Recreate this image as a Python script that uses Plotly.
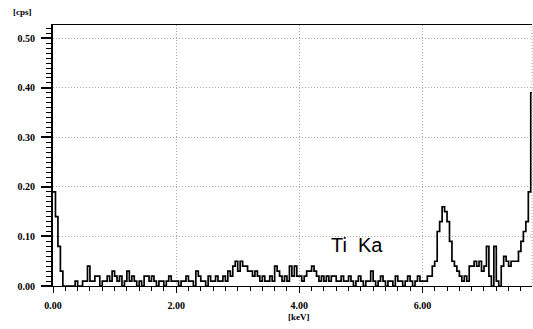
import numpy as np
import plotly.graph_objects as go

# Spectrum counts (cps, in units of 0.01) per 0.04 keV channel, starting at 0 keV
bin_width_kev = 0.04
counts_0_2kev = [19, 14, 8, 3, 0, 0, 0, 0, 0, 1, 0, 0, 1, 1, 4, 1, 1, 2, 2, 0,
                 1, 1, 2, 1, 3, 2, 1, 2, 0, 1, 3, 1, 2, 1, 0, 1, 0, 2, 2, 1,
                 2, 1, 0, 1, 1, 0, 1, 2, 1, 1]
counts_2_4kev = [1, 0, 1, 1, 2, 1, 1, 0, 3, 2, 1, 1, 0, 2, 1, 1, 2, 1, 1, 2,
                 1, 3, 2, 4, 5, 3, 5, 4, 4, 3, 3, 2, 3, 2, 1, 2, 1, 1, 2, 1,
                 4, 3, 2, 1, 2, 1, 4, 2, 4, 2]
counts_4_6kev = [2, 1, 2, 3, 3, 4, 3, 2, 1, 2, 1, 2, 1, 2, 2, 1, 1, 2, 1, 1,
                 2, 1, 0, 1, 2, 1, 0, 1, 1, 3, 1, 0, 1, 2, 1, 0, 1, 1, 0, 2,
                 1, 1, 0, 1, 2, 1, 0, 1, 2, 1]
counts_6_8kev = [1, 1, 2, 2, 4, 5, 11, 13, 16, 15, 13, 9, 5, 4, 3, 2, 1, 2, 1, 4,
                 4, 5, 4, 5, 3, 4, 8, 2, 0, 8, 1, 0, 4, 6, 5, 4, 5, 5, 5, 7,
                 9, 11, 13, 19, 39]

x_tick_vals = [0, 2, 4, 6]
y_tick_vals = [0.0, 0.1, 0.2, 0.3, 0.4, 0.5]
peak_label = "Ti  Ka"
peak_label_pos = (4.93, 0.083)

counts = np.array(counts_0_2kev + counts_2_4kev + counts_4_6kev + counts_6_8kev) / 100.0
energy = np.arange(len(counts) + 1) * bin_width_kev
cps = np.append(counts, counts[-1])

fig = go.Figure()
fig.add_trace(go.Scatter(
    x=energy, y=cps, mode="lines", line=dict(color="black", width=1.7, shape="hv"),
    hoverinfo="skip", showlegend=False,
))

tickfont = dict(family="Liberation Serif, DejaVu Serif, serif", size=10, color="black", weight="bold")
grid_dash = "1px,2px"
grid_color = "#a8a8a8"

fig.update_xaxes(
    range=[0, 7.78], tickvals=x_tick_vals, tickformat=".2f",
    showgrid=True, gridcolor=grid_color, griddash=grid_dash, gridwidth=1,
    showline=True, linecolor="black", linewidth=1, mirror=True,
    ticks="outside", ticklen=6, tickcolor="black", tickwidth=1,
    minor=dict(dtick=0.2, ticks="outside", ticklen=4, tickcolor="black", showgrid=False),
    tickfont=tickfont, zeroline=False, ticklabelstandoff=4,
)
fig.update_yaxes(
    range=[0, 0.527], tickvals=y_tick_vals, tickformat=".2f",
    showgrid=True, gridcolor=grid_color, griddash=grid_dash, gridwidth=1,
    showline=True, linecolor="black", linewidth=2,
    ticks="outside", ticklen=10, tickcolor="black", tickwidth=2,
    minor=dict(dtick=0.01, ticks="outside", ticklen=5, tickcolor="black", tickwidth=1, showgrid=False),
    tickfont=tickfont, zeroline=False, ticklabelstandoff=4,
)

# right border (gray dotted)
fig.add_shape(type="line", xref="paper", yref="paper", x0=1, x1=1, y0=0, y1=1,
              line=dict(color=grid_color, width=1, dash=grid_dash))

fig.add_annotation(text="[cps]", xref="paper", yref="paper", x=-0.064, y=1.05,
                   showarrow=False, font=dict(family="Liberation Serif, serif", size=9, color="black", weight="bold"),
                   xanchor="center", yanchor="middle")
fig.add_annotation(text="[keV]", xref="x", yref="paper", x=4.0, y=-0.119,
                   showarrow=False, font=dict(family="Liberation Serif, serif", size=9, color="black", weight="bold"),
                   xanchor="center", yanchor="middle")
fig.add_annotation(text=peak_label, xref="x", yref="y", x=peak_label_pos[0], y=peak_label_pos[1],
                   showarrow=False, font=dict(family="Liberation Sans Narrow, Liberation Sans, sans-serif", size=20, color="black"),
                   xanchor="center", yanchor="middle")

fig.update_layout(
    width=533, height=329,
    margin=dict(l=53, r=1, t=25, b=43),
    paper_bgcolor="white", plot_bgcolor="white",
)

fig.write_html("out.html", config={"displayModeBar": False},
               post_script="document.body.style.margin='0';document.body.style.overflow='hidden';")
